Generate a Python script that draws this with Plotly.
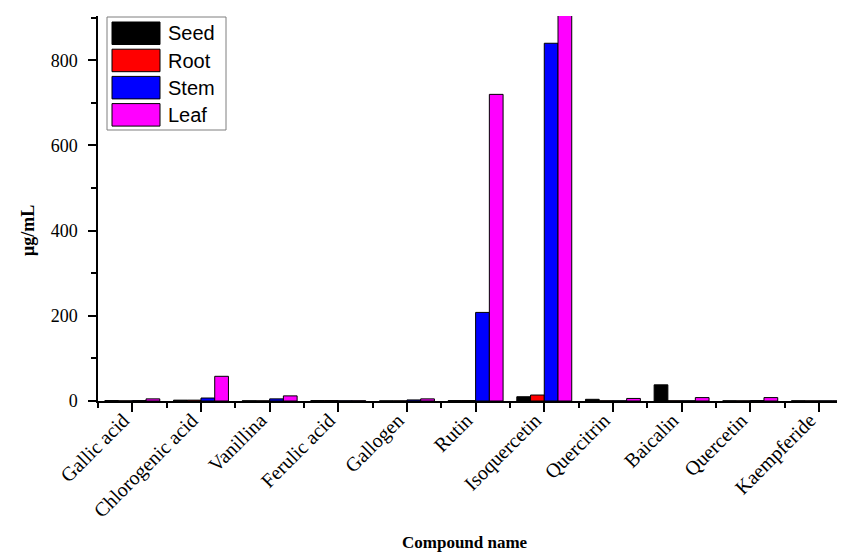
import plotly.graph_objects as go

categories = ["Gallic acid", "Chlorogenic acid", "Vanillina", "Ferulic acid", "Gallogen",
              "Rutin", "Isoquercetin", "Quercitrin", "Baicalin", "Quercetin", "Kaempferide"]
seed = [1, 2, 0.5, 1, 0.3, 1, 10, 4, 38, 0.5, 0.5]
root = [0.3, 2, 0.3, 1, 0.3, 1, 14, 0.5, 0.5, 0.3, 0.3]
stem = [1, 7, 5, 0.5, 2.5, 208, 840, 0.5, 0.5, 1, 0.3]
leaf = [5, 58, 12, 0.5, 5, 720, 960, 6, 8, 8, 0.3]
series_names = ["Seed", "Root", "Stem", "Leaf"]
series_values = [seed, root, stem, leaf]
series_colors = ["#000000", "#FF0000", "#0000FF", "#FF00FF"]
y_ticks = [0, 200, 400, 600, 800]

# page body has an 8px default margin; work in screen pixels and offset
OFF = 8
W, H = 845 - OFF, 558 - OFF
ML, MR, MT, MB = 98 - OFF, 0, 16 - OFF, 157
PW, PH = W - ML - MR, H - MT - MB

xpos = list(range(len(categories)))

fig = go.Figure()
for name, vals, col in zip(series_names, series_values, series_colors):
    fig.add_trace(go.Bar(x=xpos, y=vals, name=name, marker=dict(color=col, line=dict(color="#000000", width=1)),
                         showlegend=False))

serif = "Liberation Serif, Times New Roman, serif"
fig.update_layout(
    width=W, height=H, margin=dict(l=ML, r=MR, t=MT, b=MB, autoexpand=False),
    paper_bgcolor="white", plot_bgcolor="white",
    barmode="group", bargap=0.2, bargroupgap=0,
    font=dict(family=serif, size=19, color="black"),
)
fig.update_xaxes(
    range=[-0.5, 10.38], tickmode="array", tickvals=xpos, ticktext=categories,
    tickangle=-45, ticks="outside", ticklen=9, tickwidth=1.5, tickcolor="black",
    showline=True, linecolor="black", linewidth=1.5, showgrid=False, zeroline=False,
    minor=dict(tickmode="array", tickvals=[i - 0.5 for i in range(len(categories) + 1)],
               ticks="outside", ticklen=5, tickwidth=1.5, tickcolor="black", showgrid=False),
    tickfont=dict(family=serif, size=20), automargin=False, ticklabelstandoff=-11, ticklabelshift=-9,
)
fig.update_yaxes(
    range=[0, 904], tickmode="array", tickvals=y_ticks, ticks="outside", ticklen=8, tickwidth=1.5,
    tickcolor="black", showline=True, linecolor="black", linewidth=1.5, showgrid=False, zeroline=False,
    minor=dict(dtick=100, ticks="outside", ticklen=5, tickwidth=1.5, tickcolor="black", showgrid=False),
    tickfont=dict(family=serif, size=18), automargin=False, ticklabelstandoff=7,
)

def px_x(p):
    return (p - OFF - ML) / PW

def px_y(p):
    return (MT + PH - (p - OFF)) / PH

shapes = [dict(type="rect", xref="paper", yref="paper", x0=px_x(107), x1=px_x(226), y0=px_y(130), y1=px_y(17),
               line=dict(color="#7f7f7f", width=1), fillcolor="white", layer="above")]
annotations = [
    dict(xref="paper", yref="paper", x=px_x(465), y=px_y(542), text="<b>Compound name</b>", showarrow=False,
         xanchor="center", yanchor="middle", font=dict(family=serif, size=17, color="black")),
    dict(xref="paper", yref="paper", x=px_x(28), y=px_y(231), text="<b>μg/mL</b>", showarrow=False,
         textangle=-90, xanchor="center", yanchor="middle", font=dict(family=serif, size=18, color="black")),
]
for i, (name, col) in enumerate(zip(series_names, series_colors)):
    top = 22 + i * 27.2
    shapes.append(dict(type="rect", xref="paper", yref="paper", x0=px_x(112), x1=px_x(160),
                       y0=px_y(top + 22.5), y1=px_y(top), line=dict(color="black", width=1),
                       fillcolor=col, layer="above"))
    annotations.append(dict(xref="paper", yref="paper", x=px_x(166), y=px_y(top + 11.5), text=name,
                            showarrow=False, xanchor="left", yanchor="middle",
                            font=dict(family="Liberation Sans, Arial, sans-serif", size=20, color="black")))
fig.update_layout(shapes=shapes, annotations=annotations)

fig.write_html("out.html")
